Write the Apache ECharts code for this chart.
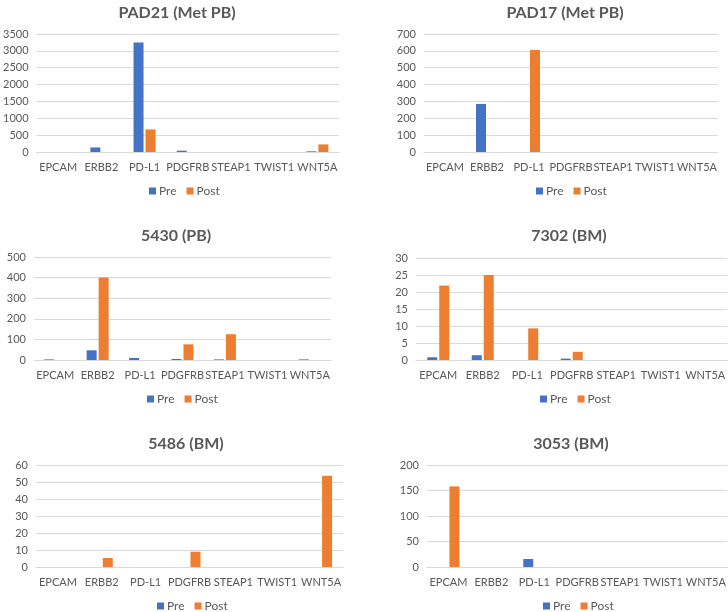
<!DOCTYPE html>
<html><head><meta charset="utf-8">
<script src="https://cdn.jsdelivr.net/npm/echarts@6/dist/echarts.min.js"></script>
<style>html,body{margin:0;padding:0;background:#fff}#c{width:728px;height:612px}</style>
</head><body><div id="c"></div>
<script>
const categories = ['EPCAM','ERBB2','PD-L1','PDGFRB','STEAP1','TWIST1','WNT5A'];
const titles = ['PAD21 (Met PB)','PAD17 (Met PB)','5430 (PB)','7302 (BM)','5486 (BM)','3053 (BM)'];
const pad21Pre  = [0, 135, 3250, 40, 0, 0, 20];
const pad21Post = [0, 0, 670, 0, 0, 0, 225];
const pad17Pre  = [0, 285, 0, 0, 0, 0, 0];
const pad17Post = [0, 0, 605, 0, 0, 0, 0];
const s5430Pre  = [3, 47, 10, 5, 3, 0, 3];
const s5430Post = [0, 400, 0, 76, 125, 0, 0];
const s7302Pre  = [0.8, 1.4, 0, 0.4, 0, 0, 0];
const s7302Post = [21.9, 25, 9.3, 2.4, 0, 0, 0];
const s5486Pre  = [0, 0, 0, 0, 0, 0, 0];
const s5486Post = [0, 5.3, 0, 9, 0, 0, 53.7];
const s3053Pre  = [0, 0, 15.7, 0, 0, 0, 0];
const s3053Post = [158, 0, 0, 0, 0, 0, 0];
const yMax = [3500, 700, 500, 30, 60, 200];
const yInterval = [500, 100, 100, 5, 10, 50];

const preData = [pad21Pre, pad17Pre, s5430Pre, s7302Pre, s5486Pre, s3053Pre];
const postData = [pad21Post, pad17Post, s5430Post, s7302Post, s5486Post, s3053Post];

const grids = [
  {left:33, top:34, width:306, height:118},
  {left:424, top:34, width:294, height:118},
  {left:34, top:257, width:297, height:103},
  {left:416, top:258, width:315, height:102},
  {left:36, top:465, width:307, height:102},
  {left:427, top:465, width:313, height:102}
];
const titlePos = [[172,0],[560,0],[171,223],[564,223],[181,431],[566,431]];
const legendPos = [[175,186],[562,186],[173,394],[566,394],[183,601],[569,601]];

const FONT = 'Lato, "Open Sans", sans-serif';
const TXT = '#595959';
const option = {
  animation:false,
  backgroundColor:'#fff',
  title: titles.map((t,i)=>({text:t, left:titlePos[i][0], top:titlePos[i][1], textAlign:'center',
    textStyle:{fontFamily:FONT, fontSize:16, fontWeight:'bold', color:TXT}})),
  legend: legendPos.map((p,i)=>({data:['Pre','Post'], left:p[0]-31, top:p[1]-6, itemWidth:7, itemHeight:7, itemGap:10,
    icon:'rect', textStyle:{fontFamily:FONT, fontSize:12, color:TXT, padding:[0,0,0,-2]}, selectedMode:false})),
  grid: grids,
  xAxis: grids.map((g,i)=>({type:'category', gridIndex:i, data:categories,
    axisLine:{lineStyle:{color:'#d9d9d9'}}, axisTick:{show:false},
    axisLabel:{interval:0, margin:10, fontFamily:FONT, fontSize:11, color:TXT}})),
  yAxis: grids.map((g,i)=>({type:'value', gridIndex:i, min:0, max:yMax[i], interval:yInterval[i],
    axisLine:{show:false}, axisTick:{show:false},
    splitLine:{lineStyle:{color:'#d9d9d9'}},
    axisLabel:{margin:8, fontFamily:FONT, fontSize:11, color:TXT, formatter:v=>String(v)}})),
  series: []
};
for (let i=0;i<6;i++){
  option.series.push({name:'Pre', type:'bar', xAxisIndex:i, yAxisIndex:i, data:preData[i], barWidth:10, barGap:'20%', itemStyle:{color:'#4472C4'}});
  option.series.push({name:'Post', type:'bar', xAxisIndex:i, yAxisIndex:i, data:postData[i], barWidth:10, barGap:'20%', itemStyle:{color:'#ED7D31'}});
}
echarts.init(document.getElementById('c'), null, {renderer:'canvas'}).setOption(option);
</script></body></html>
